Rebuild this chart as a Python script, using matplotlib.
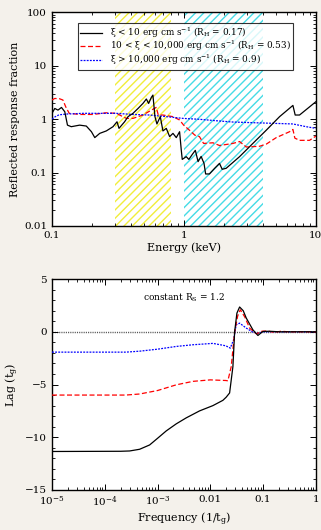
import matplotlib
matplotlib.use('Agg')
import matplotlib.pyplot as plt
import matplotlib.ticker as mticker
import numpy as np

plt.rcParams['font.family'] = ['DejaVu Serif']
plt.rcParams['mathtext.fontset'] = 'dejavuserif'
plt.rcParams['hatch.linewidth'] = 1.0

BG = '#f4f1eb'

# ---- top panel data: reflected response fraction vs energy (keV)
e_low = [0.1, 0.105, 0.111, 0.118, 0.125, 0.131, 0.140, 0.162, 0.182, 0.199,
         0.211, 0.230, 0.258, 0.290, 0.311, 0.322, 0.355, 0.377, 0.411, 0.449,
         0.489, 0.519, 0.540, 0.566, 0.582, 0.603, 0.624, 0.662, 0.693, 0.735,
         0.779, 0.826, 0.875, 0.927, 0.955, 0.971, 1.04, 1.09, 1.16, 1.22,
         1.28, 1.35, 1.42, 1.46, 1.56, 1.71, 1.86, 1.95, 2.09, 2.64,
         3.33, 4.21, 5.31, 6.70, 6.97, 7.52, 10.0]
r_low = [1.28, 1.58, 1.47, 1.65, 1.37, 0.77, 0.72, 0.77, 0.74, 0.58,
         0.45, 0.54, 0.60, 0.72, 0.89, 0.67, 0.89, 1.11, 1.28, 1.58,
         1.96, 2.37, 1.96, 2.54, 2.81, 1.11, 0.81, 1.11, 0.60, 0.67,
         0.47, 0.54, 0.45, 0.58, 0.26, 0.176, 0.198, 0.176, 0.22, 0.26,
         0.16, 0.20, 0.148, 0.094, 0.094, 0.12, 0.148, 0.115, 0.12, 0.198,
         0.35, 0.62, 1.11, 1.80, 1.19, 1.19, 2.11]

e_mid = [0.1, 0.105, 0.114, 0.121, 0.127, 0.135, 0.162, 0.205, 0.258, 0.307,
         0.366, 0.411, 0.489, 0.566, 0.617, 0.639, 0.693, 0.826, 0.927, 0.995,
         1.10, 1.21, 1.31, 1.41, 1.66, 1.86, 2.35, 2.64, 2.97, 3.74,
         4.21, 5.01, 6.32, 6.70, 6.93, 7.52, 8.95, 10.0]
r_mid = [2.27, 2.43, 2.40, 2.27, 1.70, 1.28, 1.22, 1.22, 1.31, 1.28,
         1.03, 1.03, 1.19, 1.47, 1.65, 1.19, 1.19, 1.11, 0.96, 0.77,
         0.62, 0.50, 0.47, 0.35, 0.36, 0.32, 0.35, 0.38, 0.30, 0.31,
         0.34, 0.45, 0.58, 0.64, 0.44, 0.40, 0.40, 0.48]

e_high = [0.1, 0.106, 0.113, 0.128, 0.172, 0.307, 0.411, 0.550, 0.735, 0.983,
          1.31, 1.76, 2.35, 4.21, 6.70, 8.45, 10.0]
r_high = [1.0, 1.11, 1.20, 1.24, 1.28, 1.28, 1.22, 1.19, 1.11, 1.03,
          0.99, 0.93, 0.88, 0.84, 0.81, 0.72, 0.67]

soft_band = (0.3, 0.8)
hard_band = (1.0, 4.0)

labels = ['ξ < 10 erg cm s$^{-1}$ (R$_{\\rm H}$ = 0.17)',
          '10 < ξ < 10,000 erg cm s$^{-1}$ (R$_{\\rm H}$ = 0.53)',
          'ξ > 10,000 erg cm s$^{-1}$ (R$_{\\rm H}$ = 0.9)']

# ---- bottom panel data: lag (t_g) vs frequency (1/t_g)
f_low = [1e-5, 2.0e-4, 2.96e-4, 4.57e-4, 7.08e-4, 1e-3, 1.46e-3, 2.26e-3, 3.5e-3,
         6.26e-3, 0.0112, 0.0173, 0.0200, 0.0232, 0.0268, 0.0289, 0.0319, 0.0359,
         0.0420, 0.048, 0.064, 0.0798, 0.099, 0.13, 0.2, 1.0]
lag_low = [-11.35, -11.33, -11.3, -11.14, -10.73, -10.1, -9.4, -8.73, -8.16,
           -7.5, -7.0, -6.5, -6.2, -5.8, -3.3, 0.0, 1.77, 2.35,
           2.0, 1.3, 0.19, -0.35, 0.03, 0.05, 0.0, 0.0]

f_mid = [1e-5, 2.5e-4, 4.57e-4, 1e-3, 2.26e-3, 4.7e-3, 0.01, 0.0197, 0.0215,
         0.0249, 0.0289, 0.0330, 0.037, 0.0450, 0.0555, 0.075, 0.095, 0.12,
         0.16, 0.22, 0.3, 1.0]
lag_mid = [-6.0, -6.0, -5.9, -5.57, -5.03, -4.7, -4.56, -4.62, -4.65,
           -3.3, 0.0, 1.5, 2.09, 1.4, 0.35, -0.2, 0.05, 0.08,
           -0.05, 0.05, 0.0, 0.0]

f_high = [1e-5, 2.5e-4, 4.57e-4, 1e-3, 2.26e-3, 4.7e-3, 0.0112, 0.0197, 0.0239,
          0.0276, 0.0309, 0.0359, 0.048, 0.064, 0.08, 0.1, 0.15, 1.0]
lag_high = [-1.93, -1.93, -1.84, -1.65, -1.39, -1.23, -1.1, -1.33, -1.55,
            -0.76, 0.66, 0.82, 0.35, -0.03, -0.15, 0.0, 0.0, 0.0]

freq_ticks = [1e-5, 1e-4, 1e-3, 1e-2, 1e-1, 1]
freq_ticklabels = [r'$10^{-5}$', r'$10^{-4}$', r'$10^{-3}$', '0.01', '0.1', '1']


def style_axis(ax):
    ax.tick_params(which='both', direction='in', top=True, right=True,
                   labelsize=7.5, colors='black')
    ax.tick_params(which='major', length=4, width=0.7)
    ax.tick_params(which='minor', length=2, width=0.6)
    for sp in ax.spines.values():
        sp.set_linewidth(1.0)


fig = plt.figure(figsize=(3.21, 5.30), dpi=100)
fig.patch.set_facecolor(BG)

# top panel
ax1 = fig.add_axes([0.162, 0.5736, 0.822, 0.4035])
ax1.set_xscale('log')
ax1.set_yscale('log')
ax1.axvspan(*soft_band, facecolor='none', edgecolor='#f2ee3a', hatch='////',
            linewidth=0, zorder=1)
ax1.axvspan(*hard_band, facecolor='none', edgecolor='#45dbe6', hatch='////',
            linewidth=0, zorder=1)
ax1.plot(e_low, r_low, color='black', lw=0.9, label=labels[0], zorder=4)
ax1.plot(e_mid, r_mid, color='red', lw=0.9, dashes=(4, 2), label=labels[1], zorder=3)
ax1.plot(e_high, r_high, color='blue', lw=0.9, dashes=(1.5, 1), label=labels[2], zorder=3)
ax1.set_xlim(0.1, 10)
ax1.set_ylim(0.01, 100)
ax1.set_xticks([0.1, 1, 10])
ax1.set_xticklabels(['0.1', '1', '10'])
ax1.set_yticks([0.01, 0.1, 1, 10, 100])
ax1.set_yticklabels(['0.01', '0.1', '1', '10', '100'])
ax1.xaxis.set_minor_locator(mticker.LogLocator(subs=np.arange(2, 10)))
ax1.yaxis.set_minor_locator(mticker.LogLocator(subs=np.arange(2, 10)))
ax1.xaxis.set_minor_formatter(mticker.NullFormatter())
ax1.yaxis.set_minor_formatter(mticker.NullFormatter())
ax1.set_xlabel('Energy (keV)', fontsize=8, labelpad=2)
ax1.set_ylabel('Reflected response fraction', fontsize=8, labelpad=3)
style_axis(ax1)
leg = ax1.legend(loc='upper center', bbox_to_anchor=(0.506, 0.95), fontsize=6.4,
                 frameon=True, fancybox=False, edgecolor='black',
                 handlelength=2.4, borderpad=0.3, labelspacing=-0.1,
                 handletextpad=0.9, borderaxespad=0)
leg.get_frame().set_linewidth(0.8)

# bottom panel
ax2 = fig.add_axes([0.162, 0.0755, 0.822, 0.398])
ax2.set_xscale('log')
ax2.axhline(0, color='#555555', lw=1.0, ls=(0, (0.8, 0.8)), zorder=1)
ax2.plot(f_high, lag_high, color='blue', lw=0.9, dashes=(1.5, 1), zorder=3)
ax2.plot(f_mid, lag_mid, color='red', lw=0.9, dashes=(4, 2), zorder=3)
ax2.plot(f_low, lag_low, color='black', lw=0.9, zorder=4)
ax2.set_xlim(1e-5, 1)
ax2.set_ylim(-15, 5)
ax2.set_xticks(freq_ticks)
ax2.set_xticklabels(freq_ticklabels)
ax2.xaxis.set_minor_locator(mticker.LogLocator(subs=np.arange(2, 10)))
ax2.xaxis.set_minor_formatter(mticker.NullFormatter())
ax2.set_yticks([-15, -10, -5, 0, 5])
ax2.set_yticklabels(['\u221215', '\u221210', '\u22125', '0', '5'])
ax2.yaxis.set_minor_locator(mticker.MultipleLocator(1))
ax2.set_xlabel(r'Frequency (1/t$_{\rm g}$)', fontsize=8, labelpad=1)
ax2.set_ylabel(r'Lag (t$_{\rm g}$)', fontsize=8, labelpad=3)
ax2.text(0.5, 0.94, r'constant R$_{\rm S}$ = 1.2', transform=ax2.transAxes,
         ha='center', va='top', fontsize=6.5)
style_axis(ax2)

fig.savefig('out.png', dpi=100, facecolor=BG)
